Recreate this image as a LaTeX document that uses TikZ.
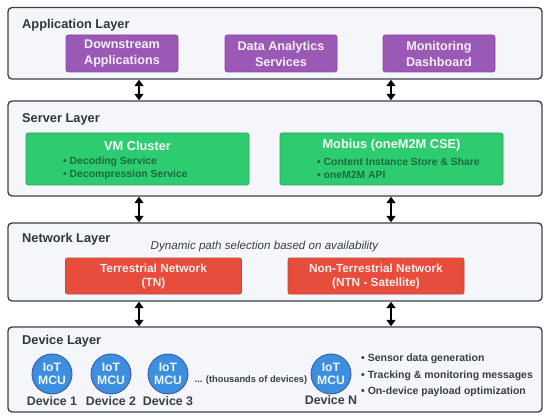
\documentclass[tikz,border=0pt]{standalone}
\usepackage{fontspec}
\setmainfont{Liberation Sans}
\usetikzlibrary{arrows.meta}
\definecolor{layerfill}{HTML}{F4F6F9}
\definecolor{layerdraw}{HTML}{3D424A}
\definecolor{titlecol}{HTML}{2E3742}
\definecolor{purfill}{HTML}{9B59B6}
\definecolor{purdraw}{HTML}{8E44AD}
\definecolor{purtext}{HTML}{F6EEFA}
\definecolor{grnfill}{HTML}{2ECC71}
\definecolor{grndraw}{HTML}{3A9A5E}
\definecolor{grntext}{HTML}{F4FBF6}
\definecolor{grnbullet}{HTML}{1B6B3C}
\definecolor{redfill}{HTML}{E74C3C}
\definecolor{reddraw}{HTML}{B4513A}
\definecolor{redtext}{HTML}{FDEEEC}
\definecolor{blufill}{HTML}{3B8FDE}
\definecolor{bludraw}{HTML}{3A5CA8}
\definecolor{blutext}{HTML}{EEF5FD}
\definecolor{greytext}{HTML}{3A3F47}
\begin{document}
\begin{tikzpicture}[x=1pt,y=-1pt,
 layer/.style={draw=layerdraw, fill=layerfill, line width=1.4pt, rounded corners=4pt, inner sep=0pt},
 ltitle/.style={anchor=base west, inner sep=0pt, text=titlecol, font=\fontsize{12.8}{14}\selectfont\bfseries},
 appbox/.style={draw=purdraw, fill=purfill, line width=0.8pt, rounded corners=2.5pt, minimum width=112pt, minimum height=37pt, inner sep=0pt, align=center, text=purtext, font=\fontsize{12.6}{16}\selectfont\bfseries},
 srvbox/.style={draw=grndraw, fill=grnfill, line width=0.8pt, rounded corners=2.5pt, minimum width=223pt, minimum height=52pt, inner sep=0pt},
 srvtitle/.style={inner sep=0pt, text=grntext, font=\fontsize{12.8}{14}\selectfont\bfseries},
 srvbullet/.style={anchor=west, inner sep=0pt, text=grnbullet, font=\fontsize{10.4}{12}\selectfont\bfseries},
 netbox/.style={draw=reddraw, fill=redfill, line width=0.8pt, rounded corners=2pt, minimum width=176pt, minimum height=36pt, inner sep=0pt, align=center, text=redtext, font=\fontsize{11.8}{14}\selectfont\bfseries},
 mcu/.style={circle, draw=bludraw, fill=blufill, line width=0.9pt, minimum size=40pt, inner sep=0pt, align=center, text=blutext, font=\fontsize{12.2}{12.5}\selectfont\bfseries},
 devlabel/.style={inner sep=0pt, text=greytext, font=\fontsize{12.4}{14}\selectfont\bfseries},
 devbullet/.style={anchor=west, inner sep=0pt, text=greytext, font=\fontsize{10.5}{12}\selectfont\bfseries},
 conn/.style={line width=1.8pt, black, {Triangle[width=9pt,length=6.5pt]}-{Triangle[width=9pt,length=6.5pt]}}
]
\useasboundingbox (0,0) rectangle (550,420);
\fill[white] (0,0) rectangle (550,420);

% layers
\node[layer, minimum width=534pt, minimum height=71.5pt] (app) at (275,43.25) {};
\node[layer, minimum width=534pt, minimum height=95pt] (srv) at (275,148.5) {};
\node[layer, minimum width=534pt, minimum height=78pt] (net) at (275,262) {};
\node[layer, minimum width=534pt, minimum height=85pt] (dev) at (275,369.5) {};

\node[ltitle] (appt) at (22,28.5) {Application Layer};
\node[ltitle] (srvt) at (22,122.5) {Server Layer};
\node[ltitle] (nett) at (22,242.5) {Network Layer};
\node[ltitle] (devt) at (22,344.5) {Device Layer};

% application layer
\node[appbox] (down) at (122,53.5) {Downstream\\Applications};
\node[appbox] (ana) at (281,53.5) {Data Analytics\\Services};
\node[appbox] (mon) at (439,53.5) {Monitoring\\Dashboard};

% server layer
\node[srvbox] (vm) at (137.5,159) {};
\node[srvtitle] (vmt) at (137.5,145.5) {VM Cluster};
\node[srvbullet] (vmb1) at (63,162) {• Decoding Service};
\node[srvbullet] (vmb2) at (63,174.5) {• Decompression Service};
\node[srvbox] (mob) at (391.5,159) {};
\node[srvtitle] (mobt) at (391.5,145.5) {Mobius (oneM2M CSE)};
\node[srvbullet] (mobb1) at (317,162) {• Content Instance Store \& Share};
\node[srvbullet] (mobb2) at (317,174.5) {• oneM2M API};

% network layer
\node[inner sep=0pt, text=greytext, font=\fontsize{11.6}{14}\selectfont\itshape] (dyn) at (264.5,246.5) {Dynamic path selection based on availability};
\node[netbox] (tn) at (153.5,276) {Terrestrial Network\\(TN)};
\node[netbox] (ntn) at (376,276) {Non-Terrestrial Network\\(NTN - Satellite)};

% device layer
\node[mcu] (d1) at (52,374) {IoT\\MCU};
\node[mcu] (d2) at (111,374) {IoT\\MCU};
\node[mcu] (d3) at (168,374) {IoT\\MCU};
\node[mcu] (dn) at (331,374) {IoT\\MCU};
\node[devlabel] (d1l) at (52,401.5) {Device 1};
\node[devlabel] (d2l) at (111,401.5) {Device 2};
\node[devlabel] (d3l) at (168,401.5) {Device 3};
\node[devlabel] (dnl) at (331,400.5) {Device N};
\node[inner sep=0pt, text=greytext, font=\fontsize{9.3}{11}\selectfont\bfseries] (thou) at (251,380.5) {... (thousands of devices)};
\node[devbullet] (db1) at (361,359) {• Sensor data generation};
\node[devbullet] (db2) at (361,375.5) {• Tracking \& monitoring messages};
\node[devbullet] (db3) at (361,391.5) {• On-device payload optimization};

% connectors
\coordinate (ax1) at (139,0);
\coordinate (ax2) at (391,0);
\draw[conn] (app.south -| ax1) -- (srv.north -| ax1);
\draw[conn] (app.south -| ax2) -- (srv.north -| ax2);
\draw[conn] (srv.south -| ax1) -- (net.north -| ax1);
\draw[conn] (srv.south -| ax2) -- (net.north -| ax2);
\draw[conn] (net.south -| ax1) -- (dev.north -| ax1);
\draw[conn] (net.south -| ax2) -- (dev.north -| ax2);
\end{tikzpicture}
\end{document}
